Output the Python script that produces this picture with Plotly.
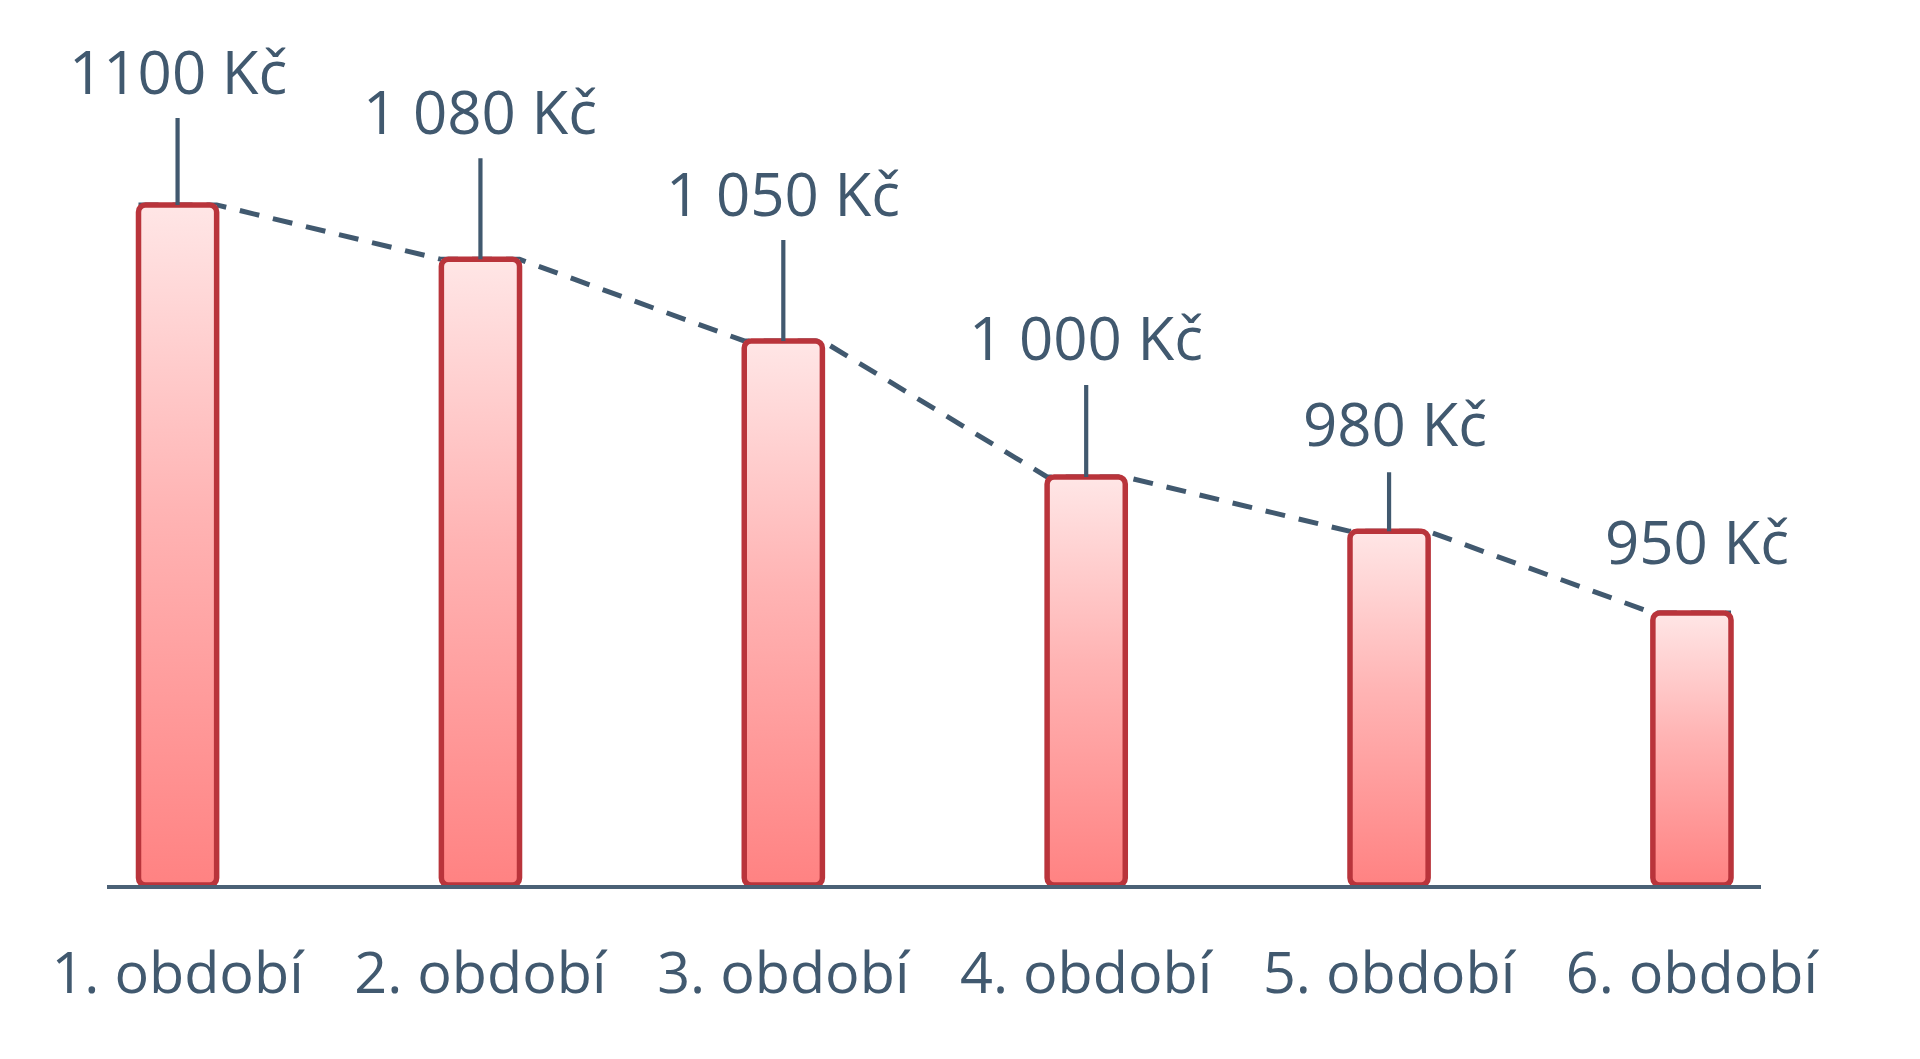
import plotly.graph_objects as go

# data
periods = ['1. období', '2. období', '3. období', '4. období', '5. období', '6. období']
prices = [1100, 1080, 1050, 1000, 980, 950]
price_labels = ['1100 Kč', '1 080 Kč', '1 050 Kč', '1 000 Kč', '980 Kč', '950 Kč']

# layout / style
TEXT = '#41596f'
AXIS = '#4b6176'
Y_FLOOR = 850
Y_TOP = 1172.4
BAR_W = 0.258
label_offsets = [134, 148, 148, 140, 108, 72]  # px from bar top up to label centre
label_xshift = [0, 0, 0, 0, 6, 5]
leader_len = [89, 103, 103, 94, 61, 0]

pos = list(range(len(periods)))

fig = go.Figure()

# dashed trend line, corner to corner over the bar tops (hidden under the bars)
line_x, line_y = [], []
for p, v in zip(pos, prices):
    line_x += [p - BAR_W / 2, p + BAR_W / 2]
    line_y += [v, v]
fig.add_trace(go.Scatter(
    x=line_x, y=line_y, mode='lines',
    line=dict(color=TEXT, width=5, dash='20px,14px'),
    hoverinfo='skip', showlegend=False,
))

# gradient fill of each bar
for p, v in zip(pos, prices):
    x0, x1 = p - BAR_W / 2, p + BAR_W / 2
    fig.add_trace(go.Scatter(
        x=[x0, x1, x1, x0, x0], y=[Y_FLOOR, Y_FLOOR, v, v, Y_FLOOR],
        mode='lines', fill='toself', line=dict(width=0, color='rgba(0,0,0,0)'),
        fillgradient=dict(type='vertical', start=Y_FLOOR, stop=v,
                          colorscale=[[0, '#ff8282'], [0.55, '#ffb4b4'], [1, '#ffe6e6']]),
        hoverinfo='skip', showlegend=False,
    ))

# bar outlines with rounded tops, on an overlay axis so they sit above the fill
fig.add_trace(go.Bar(
    x=pos, y=[v - Y_FLOOR for v in prices], base=Y_FLOOR, width=BAR_W,
    marker=dict(color='rgba(0,0,0,0)', line=dict(color='#b9343b', width=5.5), cornerradius=7),
    xaxis='x2', yaxis='y2', showlegend=False, hoverinfo='skip',
))

# leader lines + value labels
for p, v, lbl, off, xs, ll in zip(pos, prices, price_labels, label_offsets, label_xshift, leader_len):
    if ll:
        fig.add_annotation(
            x=p, y=v, text=' ', showarrow=True, arrowhead=0, arrowwidth=4.2,
            arrowcolor=TEXT, ax=0, ay=-ll, standoff=0, font=dict(size=1),
        )
    fig.add_annotation(
        x=p, y=v, text=lbl, showarrow=False, xshift=xs, yshift=off,
        font=dict(family='Open Sans', size=60, color=TEXT),
    )

xrange = [-0.233, 5.228]
fig.update_layout(
    width=1920, height=1059,
    margin=dict(l=99, r=167, t=0, b=182),
    paper_bgcolor='white', plot_bgcolor='white',
    font=dict(family='Open Sans', color=TEXT),
    showlegend=False,
    xaxis=dict(
        range=xrange, tickmode='array', tickvals=pos, ticktext=periods,
        showgrid=False, zeroline=False, showline=True, linecolor=AXIS, linewidth=4,
        ticks='outside', ticklen=35, tickcolor='rgba(0,0,0,0)',
        tickfont=dict(family='Open Sans', size=57.5, color=TEXT),
    ),
    yaxis=dict(range=[Y_FLOOR, Y_TOP], visible=False),
    xaxis2=dict(range=xrange, overlaying='x', visible=False),
    yaxis2=dict(range=[Y_FLOOR, Y_TOP], overlaying='y', visible=False),
)

fig.write_html('out.html')
